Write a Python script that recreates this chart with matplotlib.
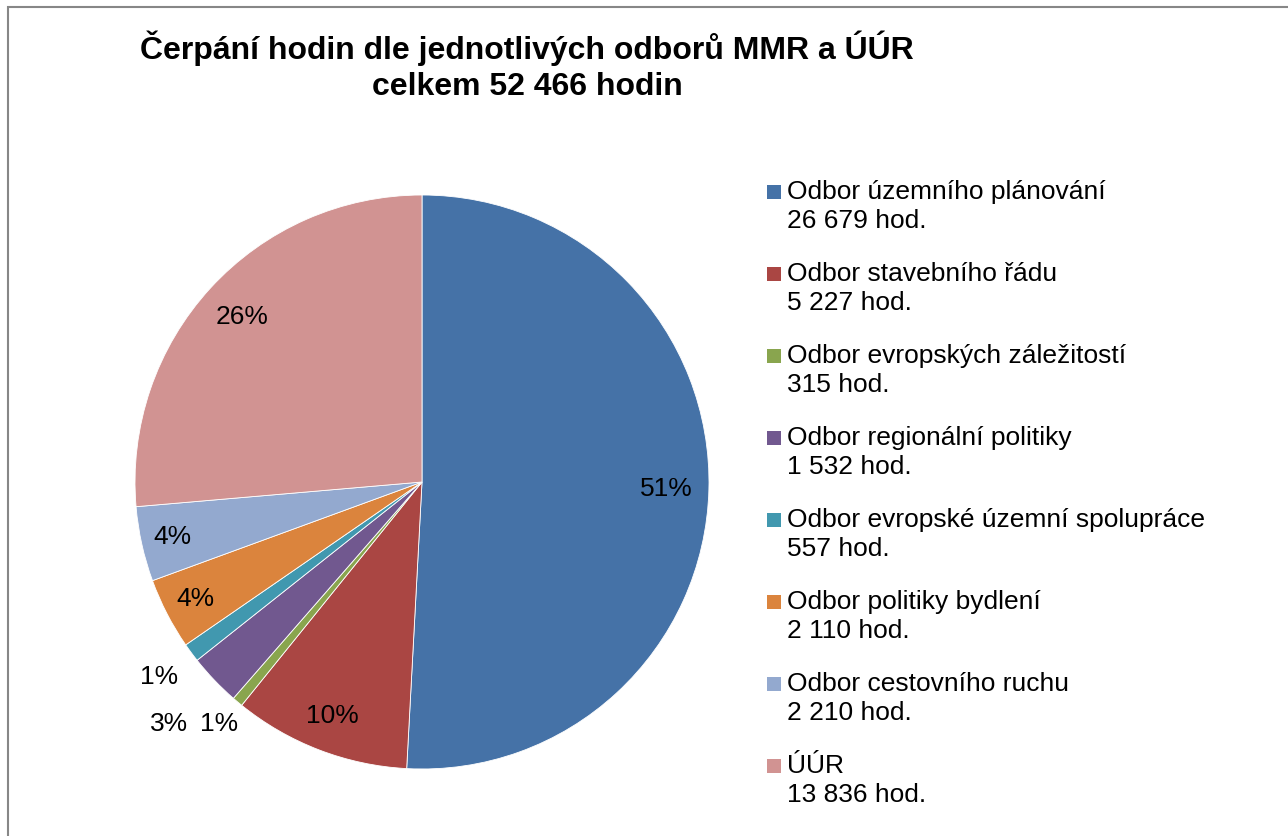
"""Pie chart of hours drawn by MMR departments and UUR."""

import numpy as np
import matplotlib
matplotlib.use('Agg')
import matplotlib.pyplot as plt
import matplotlib.patches as mpatches

plt.rcParams['font.family'] = ['Liberation Sans', 'DejaVu Sans']

# data
departments = [
    'Odbor územního plánování',
    'Odbor stavebního řádu',
    'Odbor evropských záležitostí',
    'Odbor regionální politiky',
    'Odbor evropské územní spolupráce',
    'Odbor politiky bydlení',
    'Odbor cestovního ruchu',
    'ÚÚR',
]
hours = [26679, 5227, 315, 1532, 557, 2110, 2210, 13836]
hour_labels = ['26 679', '5 227', '315', '1 532', '557', '2 110', '2 210', '13 836']
title = 'Čerpání hodin dle jednotlivých odborů MMR a ÚÚR\ncelkem 52 466 hodin'

COLORS = ['#4572A7', '#AA4643', '#89A54E', '#71588F',
          '#4198AF', '#DB843D', '#93A9CF', '#D19392']
# radial position of each percentage label (small slices sit outside)
LABEL_RADIUS = [0.85, 0.875, 1.1, 1.22, 1.14, 0.89, 0.89, 0.85]

W, H = 1288, 836
fig = plt.figure(figsize=(W / 100, H / 100), dpi=100)

# chart border (cropped at right and bottom)
fig.patches.append(mpatches.Rectangle((8 / W, -0.1), 1.2, 1.1 - 7 / H,
                                      transform=fig.transFigure, fill=False,
                                      edgecolor='#878787', linewidth=1.5))

fig.text(527 / W, 1 - 66 / H, title, ha='center', va='center',
         fontsize=23, fontweight='bold', linespacing=1.25)

# pie axes
cx, cy, r = 422, 482, 287
ax = fig.add_axes([(cx - r) / W, (H - cy - r) / H, 2 * r / W, 2 * r / H])
wedges, _ = ax.pie(hours, colors=COLORS, startangle=90, counterclock=False,
                   wedgeprops=dict(edgecolor='white', linewidth=0.6))
ax.set_xlim(-1, 1)
ax.set_ylim(-1, 1)
ax.set_aspect('equal')
ax.axis('off')

total = float(sum(hours))
for w, v, rad in zip(wedges, hours, LABEL_RADIUS):
    ang = np.deg2rad((w.theta1 + w.theta2) / 2)
    ax.text(rad * np.cos(ang), rad * np.sin(ang), '%d%%' % round(100 * v / total),
            ha='center', va='center', fontsize=19, clip_on=False)

# legend drawn by hand: square + two-line label
x0, y0, step = 767, 192, 82
for i, (name, hl, col) in enumerate(zip(departments, hour_labels, COLORS)):
    y = y0 + i * step
    fig.patches.append(mpatches.Rectangle((x0 / W, 1 - (y + 7) / H), 14 / W, 14 / H,
                                          transform=fig.transFigure,
                                          facecolor=col, edgecolor='none'))
    fig.text((x0 + 20) / W, 1 - y / H, name, ha='left', va='center', fontsize=19)
    fig.text((x0 + 20) / W, 1 - (y + 29) / H, hl + ' hod.', ha='left', va='center',
             fontsize=19)

plt.savefig('out.png', dpi=100)
